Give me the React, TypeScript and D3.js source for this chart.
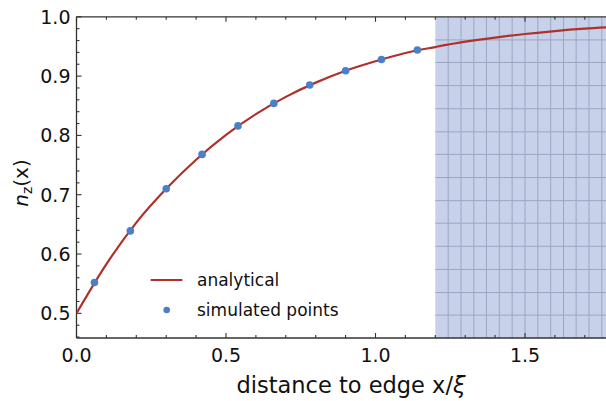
import React from 'react';
import * as d3 from 'd3';

// analytical curve
const curveX = [0, 0.1, 0.2, 0.3, 0.4, 0.5, 0.6, 0.7, 0.8, 0.9, 1.0, 1.1, 1.2, 1.3, 1.4, 1.5, 1.6, 1.7, 1.8];
const curveY = [0.5, 0.583, 0.653, 0.71, 0.759, 0.801, 0.836, 0.865, 0.889, 0.909, 0.925, 0.939, 0.949, 0.958, 0.965, 0.971, 0.976, 0.98, 0.983];

// simulated points
const simX = [0.06, 0.18, 0.3, 0.42, 0.54, 0.66, 0.78, 0.9, 1.02, 1.14];
const simY = [0.552, 0.639, 0.71, 0.768, 0.816, 0.854, 0.885, 0.909, 0.928, 0.944];

const xTicks = [0, 0.5, 1.0, 1.5];
const yTicks = [0.5, 0.6, 0.7, 0.8, 0.9, 1.0];

// shaded region and its mesh
const shadeFrom = 1.2;
const gridX = [1.243, 1.286, 1.329, 1.371, 1.414, 1.457, 1.5, 1.543, 1.586, 1.629, 1.671, 1.714, 1.757];
const gridY = [0.961, 0.923, 0.884, 0.845, 0.806, 0.768, 0.729, 0.69, 0.652, 0.613, 0.574, 0.535, 0.497];

const W = 606;
const H = 401;
const left = 76.5;
const top = 16.8;
const bottom = 338;

const x = d3.scaleLinear().domain([0, 1.8]).range([left, left + 1.8 * 299]);
const y = d3.scaleLinear().domain([0.4584, 1.0]).range([bottom, top]);

const font = "'DejaVu Sans', sans-serif";
const axisColor = '#333';
const textColor = '#111';

export default function App() {
  const line = d3.line<number>()
    .x((d, i) => x(curveX[i]))
    .y(d => y(d))
    .curve(d3.curveMonotoneX);

  const minorX = d3.range(0, 18).map(i => i / 10);
  const minorY = d3.range(23, 51).map(i => i / 50);
  const right = W;

  return (
    <div style={{ position: 'absolute', left: 0, top: 0 }}>
      <svg width={W} height={H} style={{ display: 'block' }}>
        <defs>
          <clipPath id="plot">
            <rect x={left} y={top} width={right - left} height={bottom - top} />
          </clipPath>
        </defs>

        {/* shaded region */}
        <g clipPath="url(#plot)">
          <rect x={x(shadeFrom)} y={top} width={right - x(shadeFrom)} height={bottom - top} fill="#c7d1e9" />
          {gridX.map((g, i) => (
            <line key={'gx' + i} x1={x(g)} x2={x(g)} y1={top} y2={bottom} stroke="#9ba6c4" strokeWidth={1} />
          ))}
          {gridY.map((g, i) => (
            <line key={'gy' + i} x1={x(shadeFrom)} x2={right} y1={y(g)} y2={y(g)} stroke="#9ba6c4" strokeWidth={1} />
          ))}
        </g>

        {/* frame */}
        <line x1={left} x2={right} y1={bottom} y2={bottom} stroke={axisColor} strokeWidth={1.3} />
        <line x1={left} x2={right} y1={top} y2={top} stroke={axisColor} strokeWidth={1.3} />
        <line x1={left} x2={left} y1={top} y2={bottom} stroke={axisColor} strokeWidth={1.3} />

        {/* x ticks, bottom and top */}
        {minorX.map((t, i) => {
          const major = Math.abs(t * 2 - Math.round(t * 2)) < 1e-6;
          const len = major ? 5 : 3;
          return (
            <g key={'tx' + i}>
              <line x1={x(t)} x2={x(t)} y1={bottom} y2={bottom - len} stroke={axisColor} strokeWidth={1.1} />
              <line x1={x(t)} x2={x(t)} y1={top} y2={top + len} stroke={axisColor} strokeWidth={1.1} />
            </g>
          );
        })}
        {/* y ticks */}
        {minorY.map((t, i) => {
          const major = Math.abs(t * 10 - Math.round(t * 10)) < 1e-6;
          const len = major ? 5 : 3;
          return <line key={'ty' + i} x1={left} x2={left + len} y1={y(t)} y2={y(t)} stroke={axisColor} strokeWidth={1.1} />;
        })}

        {xTicks.map((t, i) => (
          <text key={'lx' + i} x={x(t)} y={361.5} textAnchor="middle" fontFamily={font} fontSize={19} fill={textColor}>
            {t.toFixed(1)}
          </text>
        ))}
        {yTicks.map((t, i) => (
          <text key={'ly' + i} x={left - 6} y={y(t)} dy="0.36em" textAnchor="end" fontFamily={font} fontSize={19} fill={textColor}>
            {t.toFixed(1)}
          </text>
        ))}

        {/* axis titles */}
        <text x={351} y={393} textAnchor="middle" fontFamily={font} fontSize={22.5} fill={textColor}>
          distance to edge x/<tspan fontStyle="italic">ξ</tspan>
        </text>
        <text transform="translate(28,183) rotate(-90)" textAnchor="middle" fontFamily={font} fontSize={20} fill={textColor}>
          <tspan fontStyle="italic">n</tspan>
          <tspan fontSize={14} dy={4}>z</tspan>
          <tspan dy={-4}>(x)</tspan>
        </text>

        {/* curve and points */}
        <g clipPath="url(#plot)">
          <path d={line(curveY) || ''} fill="none" stroke="#b0302a" strokeWidth={2.2} />
          {simX.map((v, i) => (
            <circle key={'p' + i} cx={x(v)} cy={y(simY[i])} r={3.8} fill="#4a80c8" />
          ))}
        </g>

        {/* legend */}
        <line x1={150.7} x2={182.3} y1={280} y2={280} stroke="#b0302a" strokeWidth={2.2} />
        <text x={197} y={286} fontFamily={font} fontSize={17} fill={textColor}>analytical</text>
        <circle cx={166.7} cy={310} r={3.3} fill="#4a80c8" />
        <text x={197} y={316} fontFamily={font} fontSize={17} fill={textColor}>simulated points</text>
      </svg>
    </div>
  );
}
